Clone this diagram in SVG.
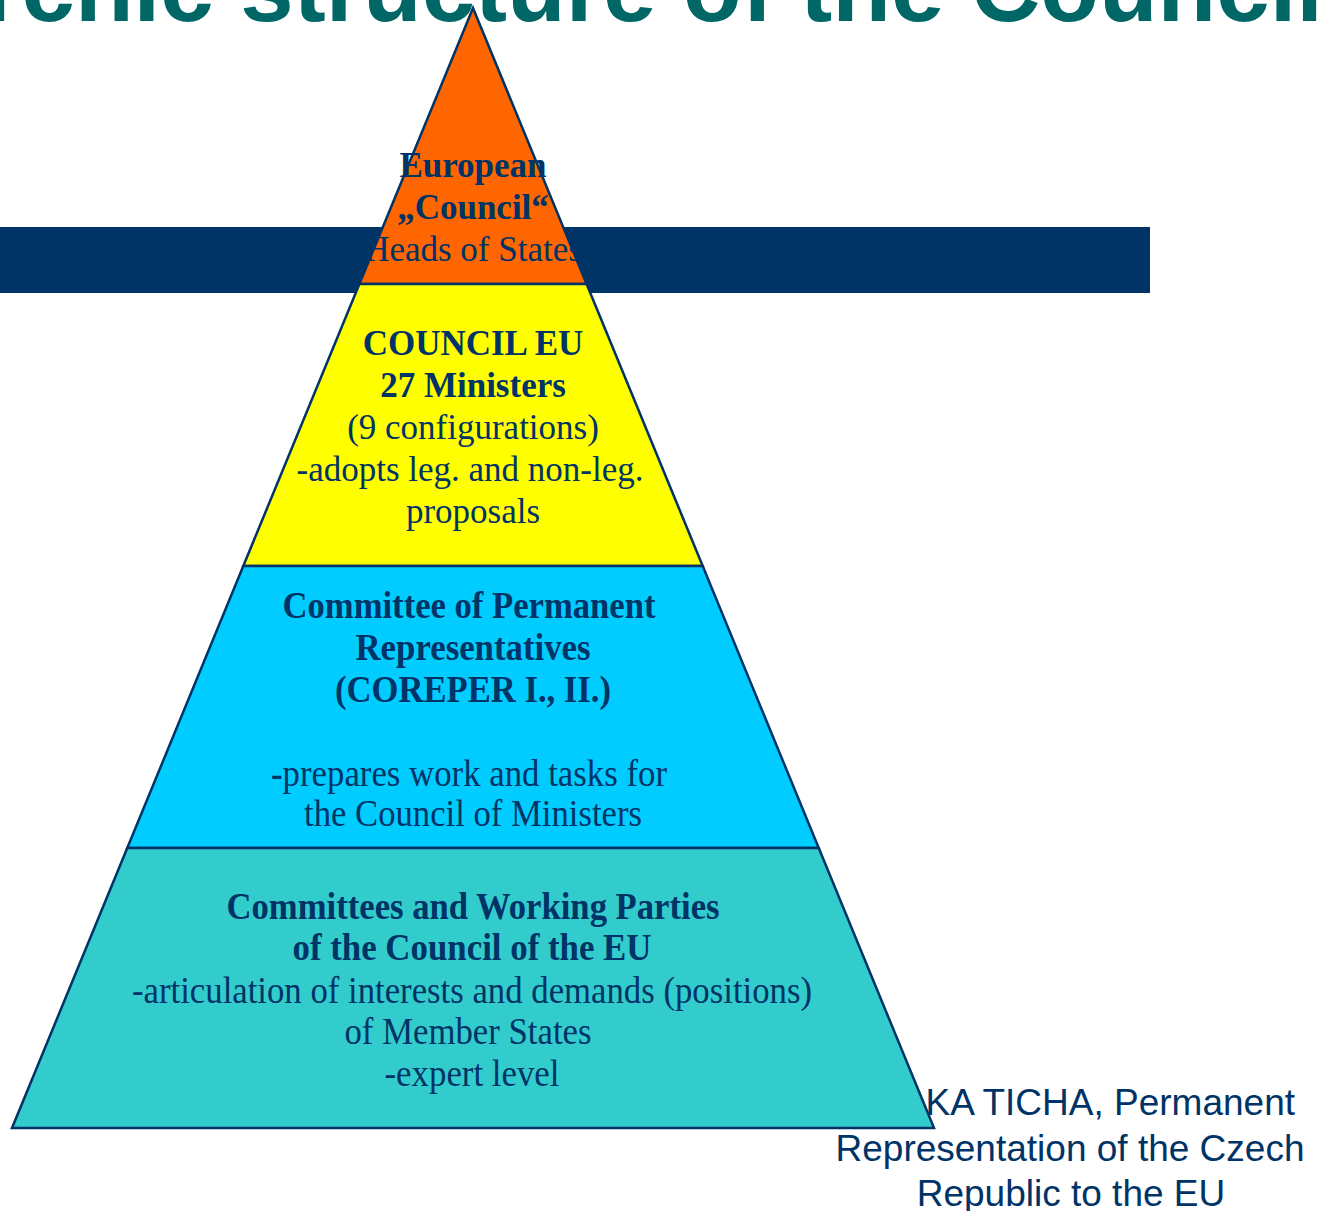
<svg xmlns="http://www.w3.org/2000/svg" width="1319" height="1211" viewBox="0 0 1319 1211">
  <style>
    .lvl { stroke: #003366; stroke-width: 2.5; stroke-linejoin: miter; }
    .t { font-family: "Liberation Serif", "Times New Roman", serif; fill: #003366; text-anchor: middle; font-size: 35px; }
    .tc { font-family: "Liberation Serif", "Times New Roman", serif; fill: #003366; text-anchor: middle; font-size: 38px; }
    .b { font-weight: bold; }
    .title { font-family: "Liberation Sans", Arial, sans-serif; font-weight: bold; font-size: 96px; fill: #006666; }
    .credit { font-family: "Liberation Sans", Arial, sans-serif; font-size: 37px; fill: #003366; }
  </style>
  <rect width="1319" height="1211" fill="#ffffff"/>
  <g id="title">
    <text class="title" x="-256" y="21">Hierarchic structure of the Council</text>
  </g>
  <g id="bar">
    <rect x="0" y="227" width="1150" height="66" fill="#003366"/>
  </g>
  <g id="credit">
    <text class="credit" x="1295" y="1115" text-anchor="end">KA TICHA, Permanent</text>
    <text class="credit" x="1070" y="1161" text-anchor="middle">Representation of the Czech</text>
    <text class="credit" x="1071" y="1206" text-anchor="middle">Republic to the EU</text>
  </g>
  <g id="connectors"></g>
  <g id="european-council">
    <polygon class="lvl" fill="#FF6600" points="473,8 586.6,284 359.4,284"/>
    <text class="t b" x="473" y="177">European</text>
    <text class="t b" x="473" y="219">„Council“</text>
    <text class="t" x="473" y="261">Heads of States</text>
  </g>
  <g id="council-eu">
    <polygon class="lvl" fill="#FFFF00" points="359.4,284 586.6,284 702.7,566 243.3,566"/>
    <text class="t b" x="473" y="355">COUNCIL EU</text>
    <text class="t b" x="473" y="397">27 Ministers</text>
    <text class="t" x="473" y="439">(9 configurations)</text>
    <text class="t" x="470" y="481">-adopts leg. and non-leg.</text>
    <text class="t" x="473" y="523">proposals</text>
  </g>
  <g id="coreper">
    <polygon class="lvl" fill="#00CCFF" points="243.3,566 702.7,566 818.75,848 127.25,848"/>
    <text class="tc b" x="469" y="618" textLength="373" lengthAdjust="spacingAndGlyphs">Committee of Permanent</text>
    <text class="tc b" x="473" y="660" textLength="235" lengthAdjust="spacingAndGlyphs">Representatives</text>
    <text class="tc b" x="473" y="702" textLength="276" lengthAdjust="spacingAndGlyphs">(COREPER I., II.)</text>
    <text class="tc" x="469" y="786" textLength="396" lengthAdjust="spacingAndGlyphs"><tspan class="b">-</tspan>prepares work and tasks for</text>
    <text class="tc" x="473" y="826" textLength="338" lengthAdjust="spacingAndGlyphs">the Council of Ministers</text>
  </g>
  <g id="working-parties">
    <polygon class="lvl" fill="#33CCCC" points="127.25,848 818.75,848 934,1128 12,1128"/>
    <text class="tc b" x="473" y="919" textLength="493" lengthAdjust="spacingAndGlyphs">Committees and Working Parties</text>
    <text class="tc b" x="472" y="960" textLength="359" lengthAdjust="spacingAndGlyphs">of the Council of the EU</text>
    <text class="tc" x="472" y="1003" textLength="680" lengthAdjust="spacingAndGlyphs">-articulation of interests and demands (positions)</text>
    <text class="tc" x="468" y="1044" textLength="247" lengthAdjust="spacingAndGlyphs">of Member States</text>
    <text class="tc" x="472" y="1086" textLength="175" lengthAdjust="spacingAndGlyphs">-expert level</text>
  </g>
</svg>
